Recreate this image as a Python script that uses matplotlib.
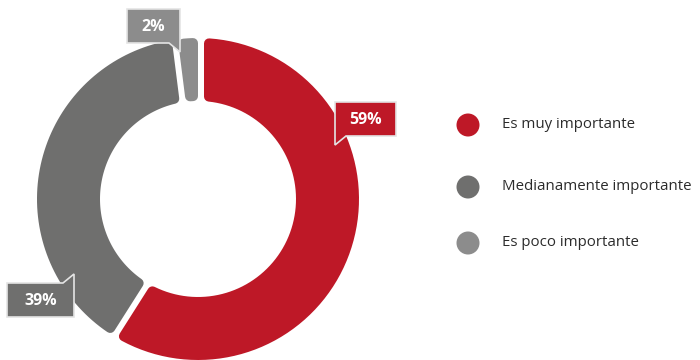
import numpy as np
import matplotlib
matplotlib.use("Agg")
import matplotlib.pyplot as plt
from matplotlib.patches import Polygon, Circle

plt.rcParams['font.family'] = ['Open Sans', 'DejaVu Sans']

# survey answers
categories = ["Es muy importante", "Medianamente importante", "Es poco importante"]
shares = [59, 39, 2]
labels = ["59%", "39%", "2%"]
colors = ["#BE1827", "#6F6F6E", "#8C8C8C"]

# ring geometry in pixel units
CX, CY = 198, 199
R_OUT, R_IN = 161, 98
GAP, RC = 6, 5


def ring_segment(ax, phi1, phi2, d1, d2, color):
    """Ring slice between clockwise angles phi1..phi2 (deg from 12 o'clock),
    trimmed by d1/d2 pixels at its ends and stroked for round corners."""
    ro, ri = R_OUT - RC, R_IN + RC

    def arc(rho, a, b):
        a = a + np.degrees(np.arcsin(d1 / rho))
        b = b - np.degrees(np.arcsin(d2 / rho))
        t = np.radians(np.linspace(a, b, 80))
        return np.column_stack([CX + rho * np.sin(t), CY - rho * np.cos(t)])

    pts = np.vstack([arc(ro, phi1, phi2), arc(ri, phi1, phi2)[::-1]])
    ax.add_patch(Polygon(pts, closed=True, fc=color, ec=color,
                         lw=2 * RC * 0.72, joinstyle='round'))


def callout(ax, box, tail, color, text):
    x0, y0, x1, y1 = box
    tw, th = 11, 9
    if tail == 'bl':
        pts = [(x0, y0), (x1, y0), (x1, y1), (x0 + tw, y1), (x0, y1 + th)]
    elif tail == 'br':
        pts = [(x0, y0), (x1, y0), (x1, y1 + th), (x1 - tw, y1), (x0, y1)]
    else:  # 'tr'
        pts = [(x0, y0), (x1 - tw, y0), (x1, y0 - th), (x1, y1), (x0, y1)]
    ax.add_patch(Polygon(pts, closed=True, fc=color, ec="#e4e4e4", lw=1.2,
                         joinstyle='miter', zorder=5))
    ax.text((x0 + x1) / 2, (y0 + y1) / 2 + 1, text, color="white",
            fontsize=11.5, fontweight="bold", ha="center", va="center", zorder=6)


fig = plt.figure(figsize=(7, 3.6), dpi=100)
ax = fig.add_axes([0, 0, 1, 1])
ax.set_xlim(0, 700)
ax.set_ylim(360, 0)
ax.axis("off")

# slice boundaries, clockwise from the top
total = float(sum(shares))
edges = np.concatenate([[0], np.cumsum(shares) / total * 360])
n = len(shares)
for i in range(n):
    prev_i, next_i = (i - 1) % n, (i + 1) % n
    # the larger neighbour gives up the gap at each boundary
    d1 = RC + (GAP if shares[i] >= shares[prev_i] else 0)
    d2 = RC + (GAP if shares[i] > shares[next_i] else 0)
    ring_segment(ax, edges[i], edges[i + 1], d1, d2, colors[i])

# value callouts
boxes = [(335, 102, 396, 136), (7, 283, 74, 317), (127, 9, 180, 43)]
tails = ['bl', 'tr', 'br']
for b, t, c, s in zip(boxes, tails, colors, labels):
    callout(ax, b, t, c, s)

# legend
for k, (name, c) in enumerate(zip(categories, colors)):
    y = [125, 187, 243][k]
    ax.add_patch(Circle((468, y), 11.5, fc=c, ec="none"))
    ax.text(502, y, name, fontsize=10.8, color="#2b2b2b", va="center", ha="left")

fig.savefig("out.png", dpi=100)
